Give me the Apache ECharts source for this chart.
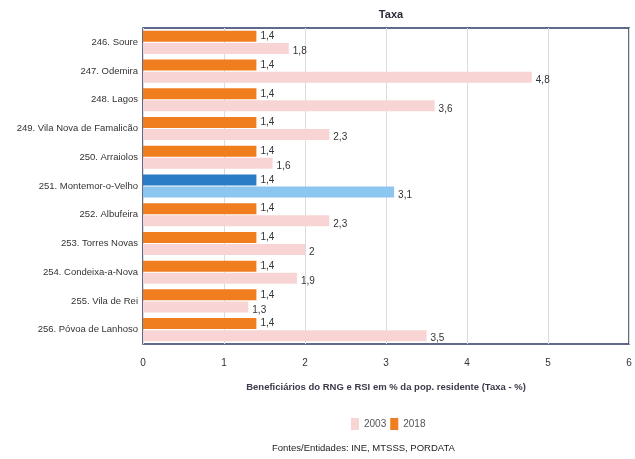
<!DOCTYPE html>
<html><head><meta charset="utf-8">
<script src="https://cdn.jsdelivr.net/npm/echarts@6/dist/echarts.min.js"></script>
<style>html,body{margin:0;padding:0;background:#fff}#c{width:635px;height:459px}</style>
</head><body><div id="c"></div>
<script>
var categories = ["246. Soure","247. Odemira","248. Lagos","249. Vila Nova de Famalicão","250. Arraiolos","251. Montemor-o-Velho","252. Albufeira","253. Torres Novas","254. Condeixa-a-Nova","255. Vila de Rei","256. Póvoa de Lanhoso"];
var values2018 = [1.4,1.4,1.4,1.4,1.4,1.4,1.4,1.4,1.4,1.4,1.4];
var values2003 = [1.8,4.8,3.6,2.3,1.6,3.1,2.3,2,1.9,1.3,3.5];
var xTicks = [0,1,2,3,4,5,6];
var highlight = "251. Montemor-o-Velho";

var fmt = function(p){ return String(p.value).replace('.', ','); };
function mk(vals, color, hcolor){
  return vals.map(function(v,i){
    return categories[i] === highlight ? {value:v, itemStyle:{color:hcolor}} : v;
  });
}
var chart = echarts.init(document.getElementById('c'));
chart.setOption({
  animation:false,
  textStyle:{fontFamily:'Liberation Sans'},
  title:{text:'Taxa', left:386, top:4, textAlign:'center',
    textStyle:{fontSize:11, fontWeight:'bold', color:'#2b2b3a'}},
  grid:{left:143, right:6, top:28, bottom:115, show:true, borderColor:'#2d3b66', borderWidth:1.5},
  xAxis:{type:'value', min:0, max:6, interval:1,
    name:'Beneficiários do RNG e RSI em % da pop. residente (Taxa - %)',
    nameLocation:'middle', nameGap:38,
    nameTextStyle:{fontSize:9.5, fontWeight:'bold', color:'#3a3a4a'},
    axisLine:{show:false}, axisTick:{show:false},
    axisLabel:{fontSize:10, color:'#333', margin:14, formatter:function(v){return xTicks.indexOf(v)>=0?String(v):'';}},
    splitLine:{show:true, lineStyle:{color:'#dcdcdc'}}
  },
  yAxis:{type:'category', data:categories, inverse:true,
    axisLine:{show:false}, axisTick:{show:false},
    axisLabel:{fontSize:9.5, color:'#333', margin:5}
  },
  legend:{data:['2003','2018'], top:413, left:346, itemWidth:8, itemHeight:12, itemGap:4,
    icon:'rect', textStyle:{fontSize:10, color:'#555'}},
  graphic:[{type:'text', left:272, top:443,
    style:{text:'Fontes/Entidades: INE, MTSSS, PORDATA', fontSize:9.5, fill:'#222', fontFamily:'Liberation Sans'}}],
  series:[
    {name:'2018', type:'bar', data:mk(values2018,'#f07d1e','#2a7cc6'), barWidth:11, barGap:'10%',
      itemStyle:{color:'#f07d1e'},
      label:{show:true, position:'right', fontSize:10, color:'#333', distance:4, formatter:fmt}},
    {name:'2003', type:'bar', data:mk(values2003,'#f8d4d4','#8cc5f0'), barWidth:11,
      itemStyle:{color:'#f8d4d4'},
      label:{show:true, position:'right', fontSize:10, color:'#333', distance:4, offset:[0,3], formatter:fmt}}
  ]
});
</script></body></html>
